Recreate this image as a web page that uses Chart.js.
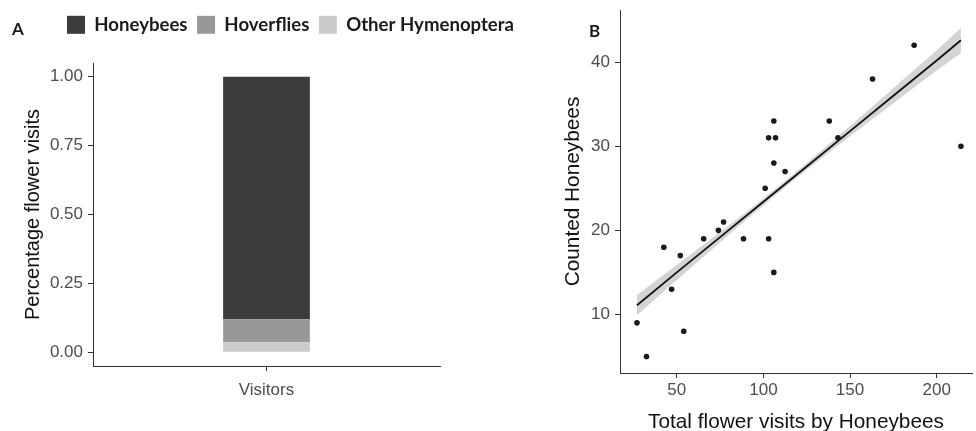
<!DOCTYPE html>
<html>
<head>
<meta charset="utf-8">
<script src="https://cdn.jsdelivr.net/npm/chart.js@4.4.0/dist/chart.umd.min.js"></script>
<style>
  html, body { margin: 0; padding: 0; background: #fff; overflow: hidden; }
  #wrap { position: relative; width: 976px; height: 431px; }
  canvas { position: absolute; top: 0; }
  #visitsChart { left: 0; }
  #countChart { left: 540px; }
  .panel-tag { position: absolute; font: 700 17px Lato, "Open Sans", sans-serif; color: #1a1a1a; }
</style>
</head>
<body>
<div id="wrap">
  <canvas id="visitsChart" width="581" height="431"></canvas>
  <canvas id="countChart" width="436" height="431"></canvas>
  <div class="panel-tag" style="left:12px; top:18px;">A</div>
  <div class="panel-tag" style="left:589px; top:20px;">B</div>
</div>
<script>
// share of flower visits per visitor group
var groups = ['Other Hymenoptera', 'Hoverflies', 'Honeybees'];
var shares = [0.036, 0.084, 0.88];
var groupColors = ['#cbcbcd', '#98989b', '#3c3c3c'];
var barLabels = ['Visitors'];
var shareTicks = [0, 0.25, 0.5, 0.75, 1];

// honeybee counts against total visits
var totalVisits = [27, 32.5, 42.5, 47, 52, 54, 65.5, 74, 77, 88.5, 101, 103, 103, 106, 107, 106, 106, 112.5, 138, 143, 163, 187, 214];
var countedBees = [9, 5, 18, 13, 17, 8, 19, 20, 21, 19, 25, 31, 19, 33, 31, 28, 15, 27, 33, 31, 38, 42, 30];
var fitX = [27, 50, 75, 100, 125, 150, 175, 200, 214];
var fitY = [11.1, 15.0, 19.2, 23.4, 27.6, 31.8, 36.0, 40.2, 42.6];
var bandLow = [9.9, 14.1, 18.6, 23.0, 27.2, 31.2, 35.1, 39.0, 41.1];
var bandHigh = [12.3, 15.9, 19.8, 23.8, 28.0, 32.4, 36.9, 41.4, 44.1];
var visitTicks = [50, 100, 150, 200];
var beeTicks = [10, 20, 30, 40];

Chart.defaults.font.family = '"Liberation Sans", Arial, sans-serif';
Chart.defaults.animation = false;
Chart.defaults.events = [];
Chart.defaults.plugins.tooltip.enabled = false;

var axisColor = '#333333';
var tickColor = '#4d4d4d';

function pairs(xs, ys) {
  return xs.map(function (x, i) { return { x: x, y: ys[i] }; });
}

function fixedTicks(values) {
  return function (scale) {
    scale.ticks = values.map(function (v) { return { value: v }; });
  };
}

// fixed box size, no extra label padding pushed onto the plot area
function boxSize(w, h) {
  return function (s) {
    if (w != null) s.width = w;
    if (h != null) s.height = h;
    s.paddingTop = 0;
    s.paddingBottom = 0;
    s.paddingLeft = 0;
    s.paddingRight = 0;
  };
}

// keeps a gap between the legend row and the plot
var legendGap = {
  id: 'legendGap',
  beforeInit: function (chart) {
    var fit = chart.legend.fit;
    chart.legend.fit = function () {
      fit.bind(chart.legend)();
      this.height = 57;
    };
  }
};

var visitsCtx = document.getElementById('visitsChart').getContext('2d');
new Chart(visitsCtx, {
  type: 'bar',
  data: {
    labels: barLabels,
    datasets: groups.map(function (g, i) {
      return {
        label: g,
        data: [shares[i]],
        backgroundColor: groupColors[i],
        borderWidth: 0,
        barPercentage: 0.25,
        categoryPercentage: 1
      };
    })
  },
  options: {
    responsive: false,
    layout: { padding: { top: 6, left: 0, right: 0, bottom: 0 } },
    plugins: {
      legend: {
        display: true,
        position: 'top',
        reverse: true,
        labels: {
          boxWidth: 18,
          boxHeight: 18,
          padding: 9.5,
          color: '#1a1a1a',
          font: { family: 'Lato, "Open Sans", sans-serif', size: 18.6, weight: 'bold' }
        }
      }
    },
    scales: {
      x: {
        stacked: true,
        grid: { display: true, drawOnChartArea: false, offset: false, color: axisColor, tickLength: 5 },
        border: { display: true, color: axisColor, width: 1 },
        ticks: { color: tickColor, padding: 9, font: { size: 17 } },
        afterFit: boxSize(null, 65)
      },
      y: {
        stacked: true,
        min: -0.05,
        max: 1.05,
        afterBuildTicks: fixedTicks(shareTicks),
        grid: { display: true, drawOnChartArea: false, color: axisColor, tickLength: 5 },
        border: { display: true, color: axisColor, width: 1 },
        ticks: {
          color: tickColor, padding: 5, font: { size: 17 },
          callback: function (v) { return Number(v).toFixed(2); }
        },
        title: {
          display: true, text: 'Percentage flower visits', color: '#111',
          font: { size: 20, lineHeight: 1 }, padding: { top: 23, bottom: 0 }
        },
        afterFit: boxSize(93, null)
      },
      spacer: {
        type: 'linear',
        position: 'right',
        display: true,
        grid: { display: false },
        border: { display: false },
        ticks: { display: false },
        afterFit: boxSize(141, null)
      }
    }
  },
  plugins: [legendGap]
});

var countCtx = document.getElementById('countChart').getContext('2d');
new Chart(countCtx, {
  type: 'scatter',
  data: {
    datasets: [
      {
        label: 'Counted',
        data: pairs(totalVisits, countedBees),
        pointRadius: 2.8,
        pointBackgroundColor: '#1a1a1a',
        pointBorderWidth: 0
      },
      {
        type: 'line',
        label: 'Fit',
        data: pairs(fitX, fitY),
        showLine: true,
        borderColor: '#111',
        borderWidth: 1.8,
        pointRadius: 0,
        tension: 0,
        fill: false
      },
      {
        type: 'line',
        label: 'Lower',
        data: pairs(fitX, bandLow),
        showLine: true,
        borderWidth: 0,
        pointRadius: 0,
        tension: 0.3,
        fill: false
      },
      {
        type: 'line',
        label: 'Upper',
        data: pairs(fitX, bandHigh),
        showLine: true,
        borderWidth: 0,
        pointRadius: 0,
        tension: 0.3,
        backgroundColor: '#d4d4d4',
        fill: '-1'
      }
    ]
  },
  options: {
    responsive: false,
    layout: { padding: { top: 10, left: 0, right: 1, bottom: 0 } },
    plugins: { legend: { display: false } },
    scales: {
      x: {
        type: 'linear',
        min: 17.2,
        max: 220.4,
        afterBuildTicks: fixedTicks(visitTicks),
        grid: { display: true, drawOnChartArea: false, color: axisColor, tickLength: 5 },
        border: { display: true, color: axisColor, width: 1 },
        ticks: { color: tickColor, padding: 2, font: { size: 17 } },
        title: {
          display: true, text: 'Total flower visits by Honeybees', color: '#111',
          font: { size: 20.8, lineHeight: 1 }, padding: { top: 0, bottom: -1.5 }
        },
        afterFit: boxSize(null, 58)
      },
      y: {
        min: 3.04,
        max: 46.2,
        afterBuildTicks: fixedTicks(beeTicks),
        grid: { display: true, drawOnChartArea: false, color: axisColor, tickLength: 5 },
        border: { display: true, color: axisColor, width: 1 },
        ticks: { color: tickColor, padding: 5, font: { size: 17 } },
        title: {
          display: true, text: 'Counted Honeybees', color: '#111',
          font: { size: 20.8, lineHeight: 1 }, padding: { top: 22.6, bottom: 0 }
        },
        afterFit: boxSize(80, null)
      }
    }
  }
});
</script>
</body>
</html>
